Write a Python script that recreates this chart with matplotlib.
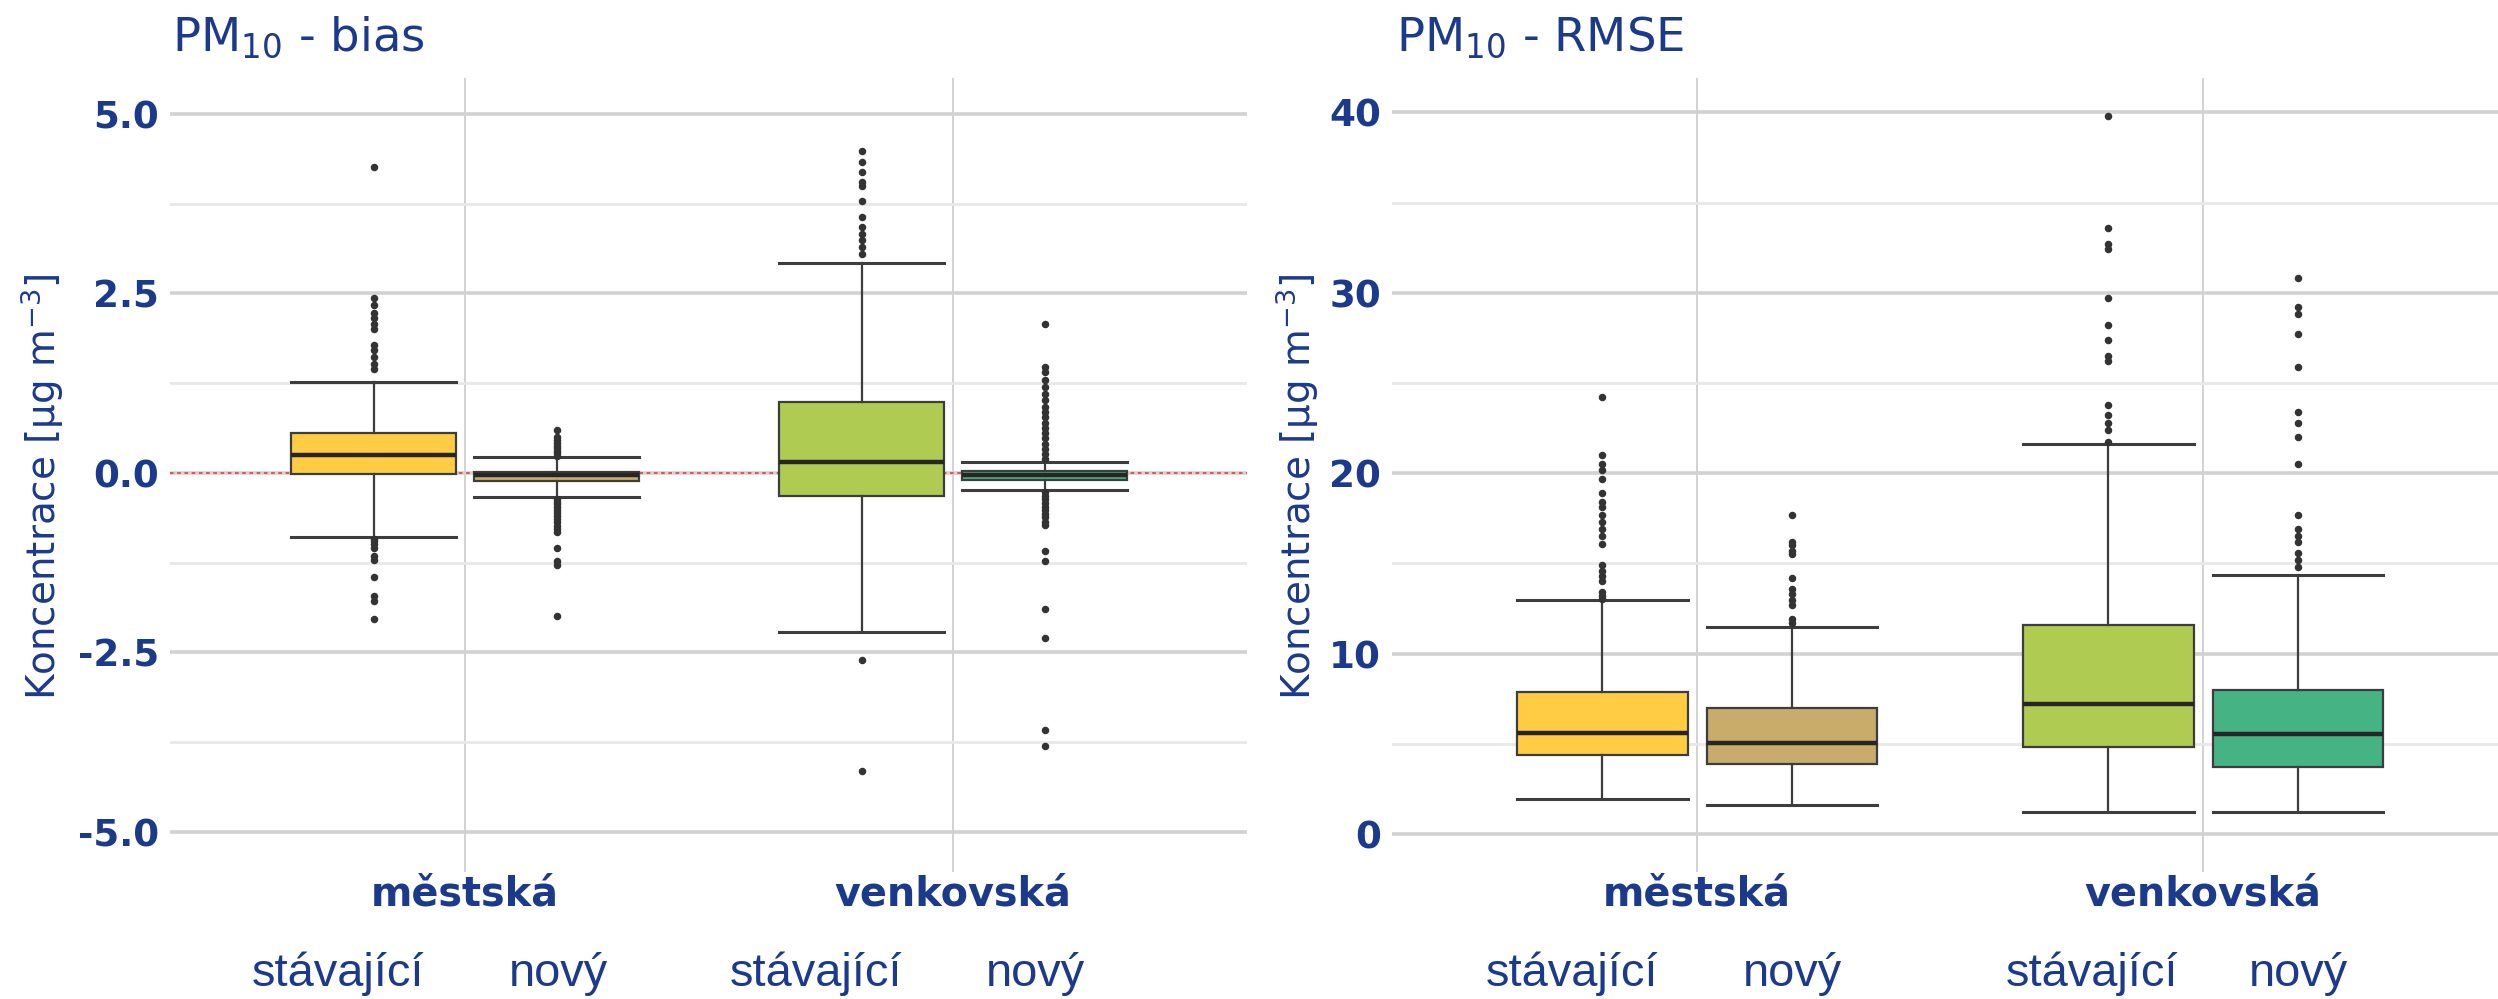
import matplotlib
matplotlib.use('Agg')
import matplotlib.pyplot as plt
from matplotlib.transforms import blended_transform_factory

# ---------------- data ----------------
groups = ['městská', 'venkovská']
models = ['stávající', 'nový']
box_colors = ['#FFCC44', '#C9AB6A', '#AFCB52', '#45B384']  # městská-stáv., městská-nový, venkovská-stáv., venkovská-nový

# PM10 bias: order = městská stávající, městská nový, venkovská stávající, venkovská nový
bias_q1 = [-0.02, -0.12, -0.32, -0.10]
bias_med = [0.246, -0.024, 0.153, -0.024]
bias_q3 = [0.56, 0.015, 0.98, 0.024]
bias_whislo = [-0.89, -0.34, -2.21, -0.244]
bias_whishi = [1.27, 0.22, 2.92, 0.146]
bias_fliers_mest_stav = [4.26, 2.43, 2.34, 2.22, 2.15, 2.08, 2.01, 1.78, 1.71, 1.61, 1.52, 1.45,
                         -0.92, -0.95, -0.99, -1.04, -1.16, -1.21, -1.45, -1.72, -1.79, -2.04]
bias_fliers_mest_novy = [0.59, 0.50, 0.46, 0.42, 0.38, 0.34, 0.30, 0.27, 0.24,
                         -0.37, -0.40, -0.44, -0.48, -0.52, -0.56, -0.60, -0.64, -0.69, -0.74,
                         -0.78, -0.82, -1.04, -1.23, -1.28, -2.00]
bias_fliers_venk_stav = [4.49, 4.33, 4.19, 4.05, 4.00, 3.79, 3.56, 3.42, 3.33, 3.24, 3.15, 3.05,
                         -2.61, -4.15]
bias_fliers_venk_novy = [2.08, 1.47, 1.40, 1.30, 1.20, 1.10, 1.02, 0.92, 0.85, 0.78, 0.70, 0.62,
                         0.55, 0.48, 0.40, 0.33, 0.26, 0.19,
                         -0.27, -0.32, -0.37, -0.42, -0.47, -0.52, -0.57, -0.62, -0.68, -0.72,
                         -1.09, -1.23, -1.90, -2.30, -3.58, -3.80]
bias_fliers = [bias_fliers_mest_stav, bias_fliers_mest_novy, bias_fliers_venk_stav, bias_fliers_venk_novy]

# PM10 RMSE
rmse_q1 = [4.37, 3.86, 4.85, 3.73]
rmse_med = [5.61, 5.07, 7.22, 5.57]
rmse_q3 = [7.86, 6.97, 11.59, 8.00]
rmse_whislo = [1.96, 1.61, 1.22, 1.22]
rmse_whishi = [12.95, 11.46, 21.6, 14.37]
rmse_fliers_mest_stav = [24.2, 21.0, 20.5, 20.2, 19.7, 18.9, 18.4, 18.1, 17.7, 17.3, 16.9, 16.5, 16.1,
                         14.9, 14.6, 14.3, 14.0, 13.4, 13.2, 13.05]
rmse_fliers_mest_novy = [17.7, 16.2, 16.0, 15.7, 15.5, 14.2, 13.6, 13.3, 13.0, 12.7, 11.9, 11.7]
rmse_fliers_venk_stav = [39.8, 33.6, 32.7, 32.4, 29.7, 28.2, 27.4, 26.5, 26.2, 23.8, 23.2, 22.8,
                         22.4, 21.75]
rmse_fliers_venk_novy = [30.8, 29.2, 28.8, 27.7, 25.9, 23.4, 22.8, 22.0, 20.5, 17.7, 16.9, 16.5,
                         16.2, 15.6, 15.2, 14.8]
rmse_fliers = [rmse_fliers_mest_stav, rmse_fliers_mest_novy, rmse_fliers_venk_stav, rmse_fliers_venk_novy]

bias_ticks = [-5.0, -2.5, 0.0, 2.5, 5.0]
bias_ticklabels = ['-5.0', '-2.5', '0.0', '2.5', '5.0']
rmse_ticks = [0, 10, 20, 30, 40]
rmse_ticklabels = ['0', '10', '20', '30', '40']

# ---------------- style ----------------
TXT = '#1b3a8c'
W, H = 2498, 999
fig = plt.figure(figsize=(W / 100, H / 100), dpi=100)

ax1 = fig.add_axes([170 / W, 1 - 872 / H, (1247 - 170) / W, (872 - 78) / H])
ax2 = fig.add_axes([1392 / W, 1 - 872 / H, (W - 1392) / W, (872 - 78) / H])

offset = 0.1875
bw = 0.3375
positions = [g + (m - 0.5) * 2 * offset for g in range(len(groups)) for m in range(len(models))]


def draw_panel(ax, q1, med, q3, wlo, whi, fliers, ticks, ticklabels, ylim, xlim, title, sub_x, title_x):
    stats = []
    for i in range(4):
        stats.append(dict(med=med[i], q1=q1[i], q3=q3[i], whislo=wlo[i], whishi=whi[i], fliers=fliers[i]))
    bp = ax.bxp(stats, positions=positions, widths=bw, capwidths=bw, patch_artist=True,
                showfliers=True,
                boxprops=dict(edgecolor='#3d3d3d', linewidth=1.6),
                medianprops=dict(color='#262626', linewidth=3.2),
                whiskerprops=dict(color='#3d3d3d', linewidth=1.6),
                capprops=dict(color='#3d3d3d', linewidth=2.2),
                flierprops=dict(marker='o', markersize=4.4, markerfacecolor='#333333',
                                markeredgecolor='#333333', linestyle='none'))
    for patch, c in zip(bp['boxes'], box_colors):
        patch.set_facecolor(c)
    ax.set_xlim(*xlim)
    ax.set_ylim(*ylim)
    ax.set_xticks([0, 1])
    ax.set_xticklabels(['', ''])
    ax.set_yticks(ticks)
    ax.set_yticklabels(ticklabels, fontsize=26.8, fontweight='heavy', color=TXT)
    minor = [(a + b) / 2 for a, b in zip(ticks[:-1], ticks[1:])]
    ax.set_yticks(minor, minor=True)
    ax.tick_params(axis='both', which='both', length=0)
    ax.tick_params(axis='y', pad=8)
    ax.grid(axis='y', which='major', color='#d2d2d2', linewidth=2.6)
    ax.grid(axis='y', which='minor', color='#e8e8e8', linewidth=2.0)
    ax.grid(axis='x', which='major', color='#cfcfcf', linewidth=1.3)
    ax.set_axisbelow(True)
    for s in ax.spines.values():
        s.set_visible(False)
    tr = blended_transform_factory(ax.transData, fig.transFigure)
    for gi, g in enumerate(groups):
        ax.text(gi, 1 - 906 / H, g, transform=tr, ha='center', va='baseline',
                fontsize=28.6, fontweight='bold', color=TXT, family='DejaVu Sans')
    k = 0
    for gi in range(len(groups)):
        for m in models:
            ax.text(sub_x[k], 1 - 986 / H, m, transform=tr, ha='center', va='baseline',
                    fontsize=33.8, color=TXT, family='Liberation Sans')
            k += 1
    fig.text(title_x / W, 1 - 50 / H, title, ha='left', va='baseline', fontsize=33.5, color=TXT)


draw_panel(ax1, bias_q1, bias_med, bias_q3, bias_whislo, bias_whishi, bias_fliers,
           bias_ticks, bias_ticklabels, (-5.56, 5.5), (-0.605, 1.602), 'PM$_{10}$ - bias',
           [-0.260, 0.191, 0.719, 1.169], 172)
ax1.axhline(0, color='#e8474a', linewidth=1.3, linestyle=(0, (2.0, 2.0)), zorder=1.5)

draw_panel(ax2, rmse_q1, rmse_med, rmse_q3, rmse_whislo, rmse_whishi, rmse_fliers,
           rmse_ticks, rmse_ticklabels, (-2.1, 41.9), (-0.603, 1.583), 'PM$_{10}$ - RMSE',
           [-0.247, 0.188, 0.780, 1.189], 1396)

ylab = 'Koncentrace [μg m$^{-3}$]'
fig.text(42 / W, 1 - 487 / H, ylab, rotation=90, ha='center', va='center', fontsize=28, color=TXT)
fig.text(1297 / W, 1 - 487 / H, ylab, rotation=90, ha='center', va='center', fontsize=28, color=TXT)

fig.savefig('out.png', dpi=100)
